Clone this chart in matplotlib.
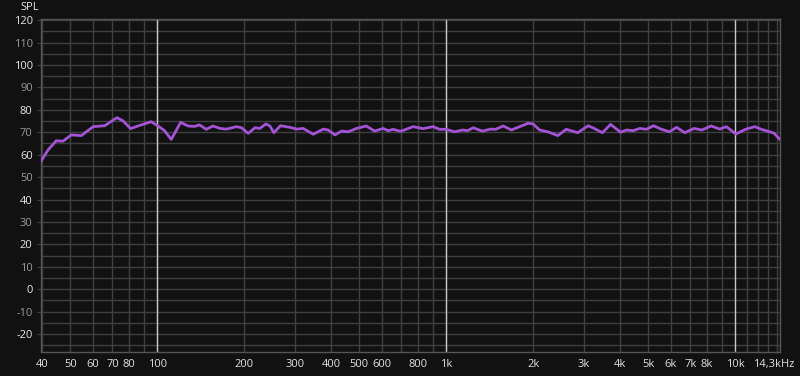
import matplotlib
matplotlib.use("Agg")
import matplotlib.pyplot as plt
import matplotlib.transforms as mtransforms
import numpy as np

# frequency response (Hz, dB SPL)
freq = [39.5, 41.9, 44.7, 47.2, 50.4, 54.6, 60.0, 65.8, 72.5, 76.1, 80.9, 85.7, 95.3,
        100.6, 106, 111.8, 120.5, 127.7, 134.7, 140, 147.8, 155.8, 165, 173.5, 188,
        195.7, 206.4, 217.9, 226.6, 237.6, 245.4, 253.3, 267, 287.6, 303.5, 320, 346.7,
        375.5, 390.6, 412, 434.5, 458, 489.5, 529, 565.5, 604.7, 629.6, 655.5, 695,
        769, 832, 901, 948, 1000, 1069, 1141, 1187, 1240, 1334, 1425, 1482, 1575,
        1682, 1797, 1920, 1998, 2106, 2248, 2434, 2602, 2853, 3100, 3253, 3472, 3708,
        4012, 4210, 4437, 4677, 4927, 5221, 5543, 5920, 6270, 6695, 7200, 7680, 8253,
        8853, 9327, 10060, 10860, 11700, 12320, 13200, 13650, 14290]
spl = [56.9, 62.1, 66.2, 66.0, 68.8, 68.5, 72.5, 72.9, 76.5, 75.1, 71.6, 72.8, 74.7,
       72.8, 70.7, 66.8, 74.4, 72.8, 72.6, 73.3, 71.3, 72.8, 71.7, 71.4, 72.5,
       72.0, 69.5, 72.0, 71.7, 73.7, 72.8, 69.8, 72.9, 72.2, 71.4, 71.7, 69.1,
       71.4, 71.0, 68.8, 70.5, 70.2, 71.7, 72.8, 70.5, 71.7, 70.7, 71.3, 70.4,
       72.5, 71.6, 72.5, 71.3, 71.3, 70.2, 71.0, 70.7, 72.0, 70.5, 71.4, 71.3, 72.8,
       71.0, 72.5, 74.0, 73.7, 71.0, 70.2, 68.5, 71.3, 69.8, 72.9, 71.7, 69.8, 73.5,
       70.0, 71.0, 70.7, 71.7, 71.3, 72.9, 71.4, 70.2, 72.2, 69.8, 71.7, 71.0, 72.8,
       71.4, 72.5, 69.2, 71.3, 72.5, 71.3, 70.2, 69.5, 66.8]

xtick_vals = [40, 50, 60, 70, 80, 100, 200, 300, 400, 500, 600, 800,
              1000, 2000, 3000, 4000, 5000, 6000, 7000, 8000, 10000, 14300]
xtick_labels = ["40", "50", "60", "70", "80", "100", "200", "300", "400", "500", "600", "800",
                "1k", "2k", "3k", "4k", "5k", "6k", "7k", "8k", "10k", "14,3kHz"]
ytick_vals = list(range(-20, 121, 10))

bg = "#111111"
grid_c = "#3f3f3f"
bright = "#c8c8c8"

plt.rcParams['font.family'] = ['Open Sans', 'DejaVu Sans']

fig = plt.figure(figsize=(8, 3.76), dpi=100, facecolor=bg)
ax = fig.add_axes([41/800, 1-352/376, 739/800, 333/376])
ax.set_facecolor(bg)
ax.set_xscale("log")
ax.set_xlim(39.6, 14300)
ax.set_ylim(-28, 120.5)

# grid lines
for y in np.arange(-25, 121, 5):
    ax.axhline(y, color=grid_c, lw=1, zorder=1)
minor_x = [f * d for d in (10, 100, 1000) for f in range(1, 10)] + [11000, 12000, 13000, 14000]
for x in minor_x:
    if 39.6 < x < 14300:
        ax.axvline(x, color=grid_c, lw=1, zorder=1)
for x in (100, 1000, 10000):
    ax.axvline(x, color=bright, lw=1, zorder=1.5)

ax.plot(freq, spl, color="#a453d6", lw=2, zorder=3, solid_capstyle="round")

ax.set_xticks(xtick_vals)
ax.set_xticklabels(xtick_labels)
ax.xaxis.set_minor_locator(matplotlib.ticker.NullLocator())
ax.set_yticks(ytick_vals)
ax.set_yticklabels([str(v) for v in ytick_vals])
for lab, v in zip(ax.get_yticklabels(), ytick_vals):
    lab.set_color("#e6e6e6" if v % 20 == 0 else "#9a9a9a")
for lab in ax.get_xticklabels():
    lab.set_color("#e0e0e0")
ax.tick_params(axis="both", labelsize=8, length=3, color=grid_c, pad=3)
ax.tick_params(axis="x", length=0, pad=5)

# last label pulled in a bit so it stays on the canvas
last = ax.get_xticklabels()[-1]
last.set_transform(last.get_transform() + mtransforms.ScaledTranslation(-6/100, 0, fig.dpi_scale_trans))

for s in ax.spines.values():
    s.set_color("#555555")
    s.set_linewidth(1)

fig.text(20/800, 1-8/376, "SPL", color="#e6e6e6", fontsize=8, va="center", ha="left")

fig.savefig("out.png", dpi=100, facecolor=bg)
